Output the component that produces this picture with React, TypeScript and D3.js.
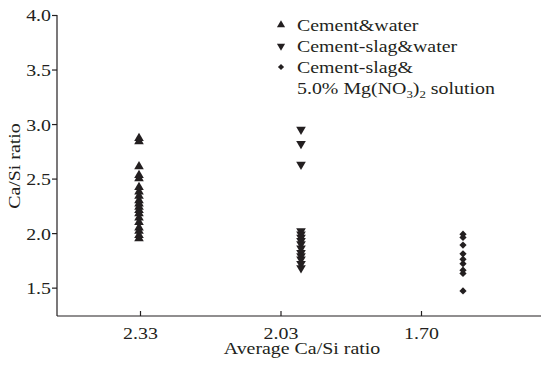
import React, { useRef, useEffect } from "react";
import * as d3 from "d3";

const tickLabels = ["2.33", "2.03", "1.70"];
const groups = ["cement", "slag", "mg"];
const cementWater = [2.87, 2.84, 2.61, 2.53, 2.5, 2.42, 2.38, 2.34, 2.3, 2.27, 2.24, 2.21, 2.18, 2.14, 2.1, 2.05, 2.02, 1.98, 1.95];
const slagWater = [2.95, 2.82, 2.63, 2.02, 1.99, 1.96, 1.93, 1.9, 1.86, 1.82, 1.79, 1.76, 1.72, 1.68];
const slagMg = [1.99, 1.96, 1.89, 1.81, 1.76, 1.72, 1.66, 1.63, 1.47];
const yTicks = [1.5, 2.0, 2.5, 3.0, 3.5, 4.0];

const FONT = "'Liberation Serif', 'Times New Roman', serif";
const FS = 17;
const SX = 1.17; // reference text is a bit wide
const INK = "#231f20";

export default function App() {
  const svgRef = useRef<SVGSVGElement | null>(null);

  useEffect(() => {
    const svg = svgRef.current;
    if (!svg) return;
    const W = 543;
    const H = 365;
    const M = { l: 57, r: 2, t: 15, b: 49 };

    const y = d3.scaleLinear().domain([1.24, 4.0]).range([H - M.b, M.t]);
    const xTick = d3.scalePoint().domain(tickLabels).range([140, 421]);
    const xGroup = d3.scalePoint().domain(groups).range([139, 463]);

    const sel = d3.select(svg);
    sel.selectAll("*").remove();

    const label = (parent: any, x: number, yy: number, anchor: string, rot = 0) =>
      parent
        .append("g")
        .attr("transform", `translate(${x},${yy}) rotate(${rot}) scale(${SX},1)`)
        .append("text")
        .attr("text-anchor", anchor)
        .attr("font-family", FONT)
        .attr("font-size", FS)
        .attr("fill", INK);

    // y axis
    const ya = sel
      .append("g")
      .attr("transform", `translate(${M.l},0)`)
      .call(
        d3.axisLeft(y).tickValues(yTicks).tickFormat(d3.format(".1f")).tickSize(5).tickSizeOuter(0)
      );
    ya.select(".domain").attr("stroke", INK).attr("stroke-width", 1.2)
      .attr("d", `M0,${M.t}V${H - M.b}`);
    ya.selectAll("line").attr("stroke", INK).attr("stroke-width", 1.2);
    ya.selectAll("text")
      .attr("fill", INK)
      .attr("font-family", FONT)
      .attr("font-size", FS)
      .attr("x", -6 / SX)
      .attr("dy", "0.35em")
      .attr("transform", `scale(${SX},1)`);

    // x axis
    const xa = sel
      .append("g")
      .attr("transform", `translate(0,${H - M.b})`)
      .call(d3.axisTop(xTick).tickSize(5).tickSizeOuter(0));
    xa.select(".domain").attr("stroke", INK).attr("stroke-width", 1.2)
      .attr("d", `M${M.l},0H${W - M.r}`);
    xa.selectAll("line").attr("stroke", INK).attr("stroke-width", 1.2);
    xa.selectAll("text")
      .attr("fill", INK)
      .attr("font-family", FONT)
      .attr("font-size", FS)
      .attr("y", 23)
      .attr("dy", 0)
      .attr("transform", `scale(${SX},1)`);

    label(sel, 302, 354, "middle").text("Average Ca/Si ratio");
    label(sel, 20, 166, "middle", -90).text("Ca/Si ratio");

    const tri = d3.symbol().type(d3.symbolTriangle).size(40)();
    const dia = d3.symbol().type(d3.symbolSquare).size(26)();

    const series = [
      { key: "cement", vals: cementWater, path: tri, rot: 0 },
      { key: "slag", vals: slagWater, path: tri, rot: 180 },
      { key: "mg", vals: slagMg, path: dia, rot: 45 },
    ];

    series.forEach((s) => {
      sel
        .append("g")
        .selectAll("path")
        .data(s.vals)
        .enter()
        .append("path")
        .attr("d", s.path as string)
        .attr("transform", (d) => `translate(${xGroup(s.key)},${y(d)}) rotate(${s.rot})`)
        .attr("fill", INK);
    });

    // legend
    const lg = sel.append("g").attr("fill", INK);
    const rows = [
      { label: "Cement&water", path: tri, rot: 0 },
      { label: "Cement-slag&water", path: tri, rot: 180 },
      { label: "Cement-slag&", path: dia, rot: 45 },
    ];
    rows.forEach((r, i) => {
      const by = 31 + i * 21;
      lg.append("path")
        .attr("d", r.path as string)
        .attr("transform", `translate(281,${by - 6}) rotate(${r.rot}) scale(0.85)`);
      label(lg, 297, by, "start").text(r.label);
    });
    const t4 = label(lg, 297, 94, "start");
    t4.append("tspan").text("5.0% Mg(NO");
    t4.append("tspan").attr("font-size", 11).attr("dy", 4).text("3");
    t4.append("tspan").attr("dy", -4).text(")");
    t4.append("tspan").attr("font-size", 11).attr("dy", 4).text("2");
    t4.append("tspan").attr("dy", -4).text(" solution");
  }, []);

  return (
    <svg
      ref={svgRef}
      width={543}
      height={365}
      style={{ position: "absolute", left: 0, top: 0, background: "#fff" }}
    />
  );
}
